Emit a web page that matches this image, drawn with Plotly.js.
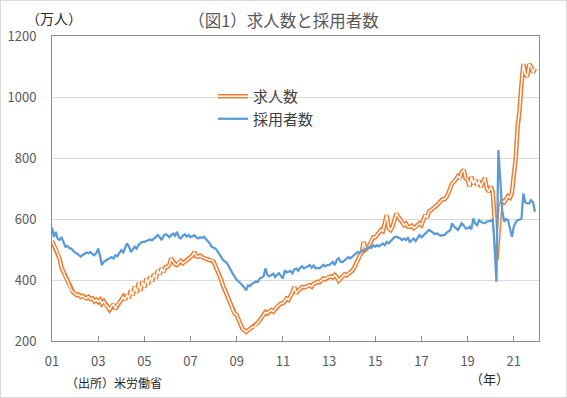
<!DOCTYPE html>
<html>
<head>
<meta charset="utf-8">
<script src="https://cdn.plot.ly/plotly-3.0.1.min.js"></script>
<style>
  html, body { margin: 0; padding: 0; background: #fff; }
  #wrap { position: relative; width: 567px; height: 398px; }
  #chart { position: absolute; left: 0; top: 0; width: 567px; height: 398px; }
  #frame { position: absolute; left: 0; top: 0; width: 565px; height: 396px; border: 1px solid #d9d9d9; pointer-events: none; }
</style>
</head>
<body>
<div id="wrap"><div id="chart"></div><div id="frame"></div></div>
<script>
// Monthly data, Jan 2001 - Dec 2021 (万人)
const startYear = 2001;
const jobOpenings = [
  528, 515, 500, 488, 470, 440, 427, 410, 400, 385, 366, 360, // 2001
  355, 350, 352, 345, 348, 342, 340, 345, 338, 340, 330, 335, // 2002
  328, 335, 322, 330, 318, 312, 302, 315, 320, 305, 318, 325, // 2003
  334, 345, 335, 352, 340, 366, 350, 378, 358, 390, 365, 395, // 2004
  375, 405, 385, 412, 395, 420, 405, 432, 418, 440, 425, 443, // 2005
  443, 450, 471, 460, 452, 449, 458, 462, 455, 459, 465, 470, // 2006
  475, 480, 492, 478, 476, 480, 475, 472, 470, 468, 465, 465, // 2007
  460, 445, 432, 415, 400, 380, 366, 350, 335, 320, 300, 290, // 2008
  285, 270, 257, 240, 235, 230, 235, 240, 245, 246, 252, 260, // 2009
  268, 279, 285, 295, 290, 298, 301, 296, 305, 312, 318, 323, // 2010
  323, 330, 339, 335, 345, 360, 377, 356, 365, 372, 377, 375, // 2011
  377, 380, 383, 378, 388, 390, 394, 392, 398, 405, 402, 408, // 2012
  410, 412, 408, 416, 410, 398, 405, 412, 418, 415, 420, 425, // 2013
  430, 440, 455, 465, 480, 490, 525, 500, 505, 515, 530, 540, // 2014
  540, 548, 555, 564, 560, 590, 613, 570, 564, 575, 600, 618, // 2015
  607, 596, 590, 580, 585, 575, 574, 578, 570, 574, 580, 586, // 2016
  580, 595, 613, 605, 625, 629, 636, 640, 645, 652, 660, 665, // 2017
  665, 672, 684, 700, 717, 722, 733, 740, 733, 755, 761, 733, // 2018
  728, 706, 739, 715, 730, 710, 725, 705, 722, 734, 700, 690, // 2019
  706, 690, 607, 465, 545, 640, 660, 655, 665, 675, 670, 685, // 2020
  745, 800, 900, 955, 1040, 1108, 1075, 1067, 1108, 1100, 1080, 1094 // 2021
];
const hires = [
  572, 541, 558, 535, 531, 541, 525, 509, 512, 505, 503, 495, // 2001
  490, 487, 480, 476, 482, 487, 490, 488, 492, 485, 481, 488, // 2002
  503, 478, 449, 460, 465, 468, 471, 475, 470, 481, 478, 490, // 2003
  498, 490, 505, 520, 510, 492, 500, 509, 503, 515, 520, 525, // 2004
  525, 528, 531, 533, 530, 536, 540, 547, 540, 531, 545, 550, // 2005
  547, 540, 547, 552, 545, 558, 540, 536, 545, 550, 542, 548, // 2006
  540, 545, 547, 540, 536, 540, 538, 542, 535, 528, 520, 509, // 2007
  505, 503, 495, 485, 475, 465, 460, 455, 443, 430, 420, 410, // 2008
  400, 395, 390, 383, 375, 366, 383, 380, 388, 392, 395, 394, // 2009
  405, 408, 412, 438, 416, 412, 418, 421, 410, 418, 422, 415, // 2010
  405, 432, 425, 427, 430, 422, 435, 438, 430, 440, 445, 438, // 2011
  443, 445, 449, 440, 448, 438, 440, 438, 443, 450, 445, 449, // 2012
  449, 455, 459, 449, 465, 471, 460, 459, 465, 470, 475, 471, // 2013
  476, 480, 485, 492, 488, 495, 498, 500, 505, 509, 505, 514, // 2014
  509, 514, 510, 514, 520, 514, 525, 520, 528, 535, 540, 542, // 2015
  540, 536, 531, 536, 531, 538, 525, 531, 536, 528, 540, 547, // 2016
  540, 547, 552, 558, 564, 560, 556, 550, 553, 550, 545, 547, // 2017
  547, 555, 560, 564, 586, 575, 570, 564, 575, 586, 578, 569, // 2018
  569, 575, 566, 602, 585, 580, 596, 590, 588, 586, 592, 594, // 2019
  594, 599, 520, 394, 826, 728, 629, 591, 600, 596, 570, 542, // 2020
  575, 590, 596, 598, 600, 684, 655, 651, 651, 662, 655, 624  // 2021
];
const seriesNames = ['求人数', '採用者数'];
const titleText = '（図1）求人数と採用者数';
const yUnitText = '（万人）';
const xUnitText = '（年）';
const sourceText = '（出所）米労働省';

const months = jobOpenings.map(function (_, i) {
  const y = startYear + Math.floor(i / 12);
  const m = (i % 12) + 1;
  return y + '-' + (m < 10 ? '0' + m : m) + '-01';
});

const orange = '#ED7D31';
const blue = '#5B9BD5';

const data = [
  { x: months, y: jobOpenings, type: 'scatter', mode: 'lines', name: seriesNames[0],
    line: { color: orange, width: 4.5 } },
  { x: months, y: jobOpenings, type: 'scatter', mode: 'lines', name: seriesNames[0],
    line: { color: '#ffffff', width: 1.5 }, showlegend: false },
  { x: months, y: hires, type: 'scatter', mode: 'lines', name: seriesNames[1],
    line: { color: blue, width: 2.25 } }
];

const L = 52, R = 28, T = 36, B = 57, W = 567, H = 398;
const pw = W - L - R, ph = H - T - B;
function px(x) { return (x - L) / pw; }
function py(y) { return (H - B - y) / ph; }

const layout = {
  width: W, height: H,
  margin: { l: L, r: R, t: T, b: B, pad: 0 },
  paper_bgcolor: '#ffffff', plot_bgcolor: '#ffffff',
  font: { family: '"Noto Sans CJK JP", "Noto Sans", sans-serif', color: '#595959' },
  title: { text: titleText, font: { size: 16.5, color: '#595959' },
           x: 0.5, xref: 'container', xanchor: 'center',
           y: 1 - 21 / H, yref: 'container', yanchor: 'middle' },
  xaxis: { type: 'date', range: ['2001-01-01', '2022-02-03'],
           tick0: '2001-01-01', dtick: 'M24', tickformat: '%y',
           ticks: 'inside', ticklen: 5, tickcolor: '#8c8c8c', tickwidth: 1,
           showline: true, linecolor: '#8c8c8c', linewidth: 1, mirror: true,
           showgrid: false, zeroline: false,
           tickfont: { size: 13, color: '#595959' }, ticklabelstandoff: 8 },
  yaxis: { range: [200, 1200], tick0: 200, dtick: 200,
           showgrid: true, gridcolor: '#d9d9d9', gridwidth: 1,
           showline: true, linecolor: '#8c8c8c', linewidth: 1, mirror: true,
           ticks: '', zeroline: false,
           tickfont: { size: 13, color: '#595959' }, ticklabelstandoff: 12 },
  showlegend: true,
  legend: { x: px(213), xanchor: 'left', y: py(80), yanchor: 'top',
            bgcolor: 'rgba(0,0,0,0)', borderwidth: 0,
            font: { size: 15, color: '#404040' }, itemwidth: 30 },
  shapes: [
    { type: 'rect', xref: 'paper', yref: 'paper', layer: 'between',
      x0: px(192), x1: px(338), y0: py(132), y1: py(80),
      fillcolor: '#ffffff', line: { width: 0 } }
  ],
  annotations: [
    { text: yUnitText, xref: 'paper', yref: 'paper', x: px(54), y: py(18),
      xanchor: 'center', yanchor: 'middle', showarrow: false,
      font: { size: 14, color: '#262626' } },
    { text: sourceText, xref: 'paper', yref: 'paper', x: px(64), y: py(382),
      xanchor: 'left', yanchor: 'middle', showarrow: false,
      font: { size: 12, color: '#262626' } },
    { text: xUnitText, xref: 'paper', yref: 'paper', x: px(489), y: py(378),
      xanchor: 'center', yanchor: 'middle', showarrow: false,
      font: { size: 13, color: '#262626' } }
  ]
};

Plotly.newPlot('chart', data, layout, { staticPlot: true, displayModeBar: false }).then(function (gd) {
  gd.querySelectorAll('.legend .traces').forEach(function (t) {
    const txt = t.querySelector('.legendtext');
    if (txt && txt.textContent === seriesNames[0]) {
      const p = t.querySelector('path.js-line');
      if (p) {
        const c = p.cloneNode(true);
        c.style.stroke = '#ffffff';
        c.style.strokeWidth = '1.5px';
        p.parentNode.appendChild(c);
      }
    }
  });
});
</script>
</body>
</html>
